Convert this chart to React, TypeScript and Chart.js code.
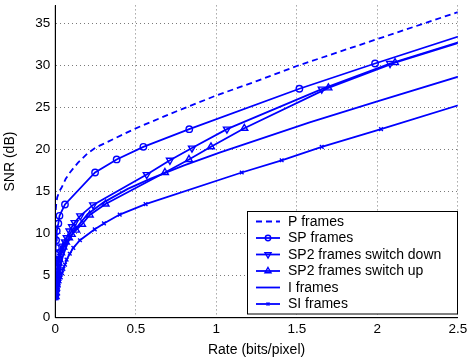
import React, { useEffect, useRef } from 'react';
import { Chart, registerables } from 'chart.js';
import { drawPoint } from 'chart.js/helpers';

Chart.register(...registerables);

// ---- data ----
const pRate = [0.003, 0.006, 0.012, 0.025, 0.04, 0.065, 0.091, 0.14, 0.2, 0.25, 0.38, 0.5, 0.75, 1.0, 1.25, 1.5, 2.0, 2.5, 2.7];
const pSnr = [12.8, 13.6, 14.3, 15.0, 15.5, 16.5, 17.25, 18.4, 19.5, 20.2, 21.4, 22.5, 24.5, 26.4, 28.1, 29.9, 33.1, 36.3, 37.6];

const spRate = [0.0004, 0.0006, 0.0008, 0.001, 0.0013, 0.0017, 0.0022, 0.003, 0.004, 0.005, 0.009, 0.019, 0.026, 0.06, 0.247, 0.381, 0.547, 0.832, 1.516, 1.986, 2.6];
const spSnr = [2.6, 3.3, 4.0, 4.7, 5.4, 6.1, 6.8, 7.5, 8.3, 9.2, 10.3, 11.2, 12.1, 13.45, 17.25, 18.8, 20.3, 22.4, 27.2, 30.2, 34.0];

const downRate = [0.002, 0.003, 0.004, 0.006, 0.008, 0.01, 0.012, 0.015, 0.018, 0.022, 0.032, 0.045, 0.06, 0.071, 0.088, 0.104, 0.12, 0.155, 0.235, 0.568, 0.712, 0.849, 1.066, 1.655, 2.079, 2.6];
const downSnr = [2.5, 3.0, 3.5, 4.0, 4.5, 5.0, 5.5, 6.0, 6.5, 7.0, 7.8, 8.5, 9.0, 9.5, 10.3, 10.8, 11.3, 12.1, 13.4, 17.0, 18.7, 20.15, 22.4, 27.15, 30.2, 33.3];

const upRate = [0.002, 0.003, 0.004, 0.006, 0.008, 0.01, 0.013, 0.016, 0.02, 0.025, 0.036, 0.05, 0.066, 0.085, 0.102, 0.129, 0.166, 0.214, 0.312, 0.681, 0.83, 0.967, 1.174, 1.696, 2.11, 2.6];
const upSnr = [2.5, 3.0, 3.5, 4.0, 4.5, 5.0, 5.5, 6.0, 6.5, 6.9, 7.7, 8.4, 9.0, 9.5, 9.9, 10.4, 11.1, 12.2, 13.5, 17.25, 18.8, 20.3, 22.5, 27.3, 30.3, 33.2];

const iRate = [0.006, 0.012, 0.022, 0.035, 0.05, 0.08, 0.12, 0.2, 0.3, 0.45, 0.589, 0.8, 1.02, 1.58, 2.0, 2.6];
const iSnr = [2.3, 3.5, 5.0, 6.4, 7.5, 9.0, 10.4, 12.3, 13.7, 15.3, 16.5, 18.1, 19.6, 23.2, 25.7, 29.2];

const siRate = [0.008, 0.012, 0.016, 0.021, 0.027, 0.034, 0.042, 0.05, 0.06, 0.07, 0.09, 0.112, 0.153, 0.245, 0.302, 0.4, 0.561, 1.158, 1.406, 1.655, 2.023, 2.6];
const siSnr = [2.3, 2.8, 3.3, 3.8, 4.3, 4.8, 5.3, 5.8, 6.3, 6.9, 7.6, 8.3, 9.2, 10.5, 11.2, 12.25, 13.5, 17.25, 18.7, 20.3, 22.4, 25.8];

const seriesLabels = ['P frames', 'SP frames', 'SP2 frames switch down', 'SP2 frames switch up', 'I frames', 'SI frames'];

const xTickValues = [0, 0.5, 1, 1.5, 2, 2.5];
const xTickLabels = ['0', '0.5', '1', '1.5', '2', '2.5'];
const yTickValues = [0, 5, 10, 15, 20, 25, 30, 35];
const yTickLabels = ['0', '5', '10', '15', '20', '25', '30', '35'];

const xTitle = 'Rate (bits/pixel)';
const yTitle = 'SNR (dB)';

// ---- helpers ----
const BLUE = '#0000ff';
const FONT = '"Liberation Sans", Arial, Helvetica, sans-serif';

const pts = (xs: number[], ys: number[]) => xs.map((x, i) => ({ x, y: ys[i] }));

const legendPlugin = {
  id: 'matlabLegend',
  afterDraw(chart: any) {
    const ctx = chart.ctx as CanvasRenderingContext2D;
    ctx.save();
    const bx = 247.5, by = 211.5, bw = 210, bh = 102.5;
    ctx.fillStyle = '#ffffff';
    ctx.fillRect(bx, by, bw, bh);
    ctx.strokeStyle = '#000000';
    ctx.lineWidth = 1;
    ctx.setLineDash([]);
    ctx.strokeRect(bx, by, bw, bh);
    chart.data.datasets.forEach((ds: any, i: number) => {
      const y = 221.5 + i * 16.5;
      ctx.strokeStyle = ds.borderColor;
      ctx.lineWidth = ds.borderWidth;
      ctx.setLineDash(ds.borderDash || []);
      ctx.beginPath();
      ctx.moveTo(256, y);
      ctx.lineTo(280, y);
      ctx.stroke();
      ctx.setLineDash([]);
      if (ds.pointRadius > 0) {
        ctx.fillStyle = 'rgba(0,0,0,0)';
        ctx.strokeStyle = ds.borderColor;
        ctx.lineWidth = ds.pointBorderWidth;
        drawPoint(ctx, {
          pointStyle: ds.pointStyle,
          rotation: ds.pointRotation || 0,
          radius: Math.max(ds.pointRadius - 0.5, 2),
          borderWidth: ds.pointBorderWidth,
        } as any, 268, y);
      }
      ctx.fillStyle = '#000000';
      ctx.font = `14px ${FONT}`;
      ctx.textBaseline = 'middle';
      ctx.textAlign = 'left';
      ctx.fillText(ds.label, 288, y + 0.5);
    });
    ctx.restore();
  },
};

const axisLinesPlugin = {
  id: 'axisLines',
  afterDatasetsDraw(chart: any) {
    const { ctx, chartArea } = chart;
    ctx.save();
    ctx.strokeStyle = '#000';
    ctx.lineWidth = 1;
    ctx.setLineDash([]);
    ctx.beginPath();
    ctx.moveTo(chartArea.left, chartArea.top);
    ctx.lineTo(chartArea.left, chartArea.bottom);
    ctx.lineTo(chartArea.right, chartArea.bottom);
    ctx.stroke();
    ctx.restore();
  },
};

export default function App() {
  const ref = useRef<HTMLCanvasElement | null>(null);

  useEffect(() => {
    if (!ref.current) return;
    const base = {
      borderColor: BLUE,
      borderWidth: 1.8,
      pointBorderColor: BLUE,
      pointBackgroundColor: 'rgba(0,0,0,0)',
      pointBorderWidth: 1.4,
      tension: 0,
      fill: false,
    };
    const chart = new Chart(ref.current, {
      type: 'line',
      data: {
        datasets: [
          { ...base, label: seriesLabels[0], data: pts(pRate, pSnr), borderDash: [6, 4], pointRadius: 0 },
          { ...base, label: seriesLabels[1], data: pts(spRate, spSnr), pointStyle: 'circle', pointRadius: 3.2 },
          { ...base, label: seriesLabels[2], data: pts(downRate, downSnr), pointStyle: 'triangle', pointRotation: 180, pointRadius: 4 },
          { ...base, label: seriesLabels[3], data: pts(upRate, upSnr), pointStyle: 'triangle', pointRadius: 4 },
          { ...base, label: seriesLabels[4], data: pts(iRate, iSnr), pointRadius: 0 },
          { ...base, label: seriesLabels[5], data: pts(siRate, siSnr), pointStyle: 'crossRot', pointRadius: 2.6 },
        ] as any,
      },
      options: {
        animation: false,
        responsive: false,
        devicePixelRatio: 1,
        layout: { padding: { left: 0, right: 9.2, top: 0, bottom: 0 } },
        plugins: {
          legend: { display: false },
          tooltip: { enabled: false },
        },
        scales: {
          x: {
            type: 'linear',
            min: 0,
            max: 2.5,
            afterBuildTicks: (scale: any) => {
              scale.ticks = xTickValues.map((v) => ({ value: v }));
            },
            afterFit: (scale: any) => {
              scale.height = 42.3;
              scale.paddingLeft = 0;
              scale.paddingRight = 0;
            },
            ticks: {
              color: '#000',
              font: { family: FONT, size: 13.5 },
              padding: 3,
              maxRotation: 0,
              autoSkip: false,
              callback: (v: any) => {
                const i = xTickValues.indexOf(Number(v));
                return i >= 0 ? xTickLabels[i] : '';
              },
            },
            grid: {
              color: '#7a7a7a',
              lineWidth: 1,
              drawTicks: false,
            },
            border: { display: true, color: '#000', width: 1, dash: [1, 3] },
            title: {
              display: true,
              text: xTitle,
              color: '#000',
              font: { family: FONT, size: 14 },
              padding: { top: 0, bottom: 1.6 },
            },
          },
          y: {
            type: 'linear',
            min: 0,
            max: 37.1,
            afterBuildTicks: (scale: any) => {
              scale.ticks = yTickValues.map((v) => ({ value: v }));
            },
            afterFit: (scale: any) => {
              scale.width = 55.3;
              scale.paddingTop = 0;
              scale.paddingBottom = 0;
            },
            ticks: {
              color: '#000',
              font: { family: FONT, size: 13.5 },
              padding: 5,
              autoSkip: false,
              callback: (v: any) => {
                const i = yTickValues.indexOf(Number(v));
                return i >= 0 ? yTickLabels[i] : '';
              },
            },
            grid: {
              color: '#7a7a7a',
              lineWidth: 1,
              drawTicks: false,
            },
            border: { display: true, color: '#000', width: 1, dash: [1, 3] },
            title: {
              display: true,
              text: yTitle,
              color: '#000',
              font: { family: FONT, size: 14 },
              padding: { top: 1.6, bottom: 0 },
            },
          },
        },
      } as any,
      plugins: [axisLinesPlugin, legendPlugin],
    });
    return () => chart.destroy();
  }, []);

  return (
    <div style={{ position: 'fixed', left: 0, top: 0, width: 467, height: 360, background: '#fff' }}>
      <canvas ref={ref} width={467} height={360} style={{ width: 467, height: 360, display: 'block' }} />
    </div>
  );
}
